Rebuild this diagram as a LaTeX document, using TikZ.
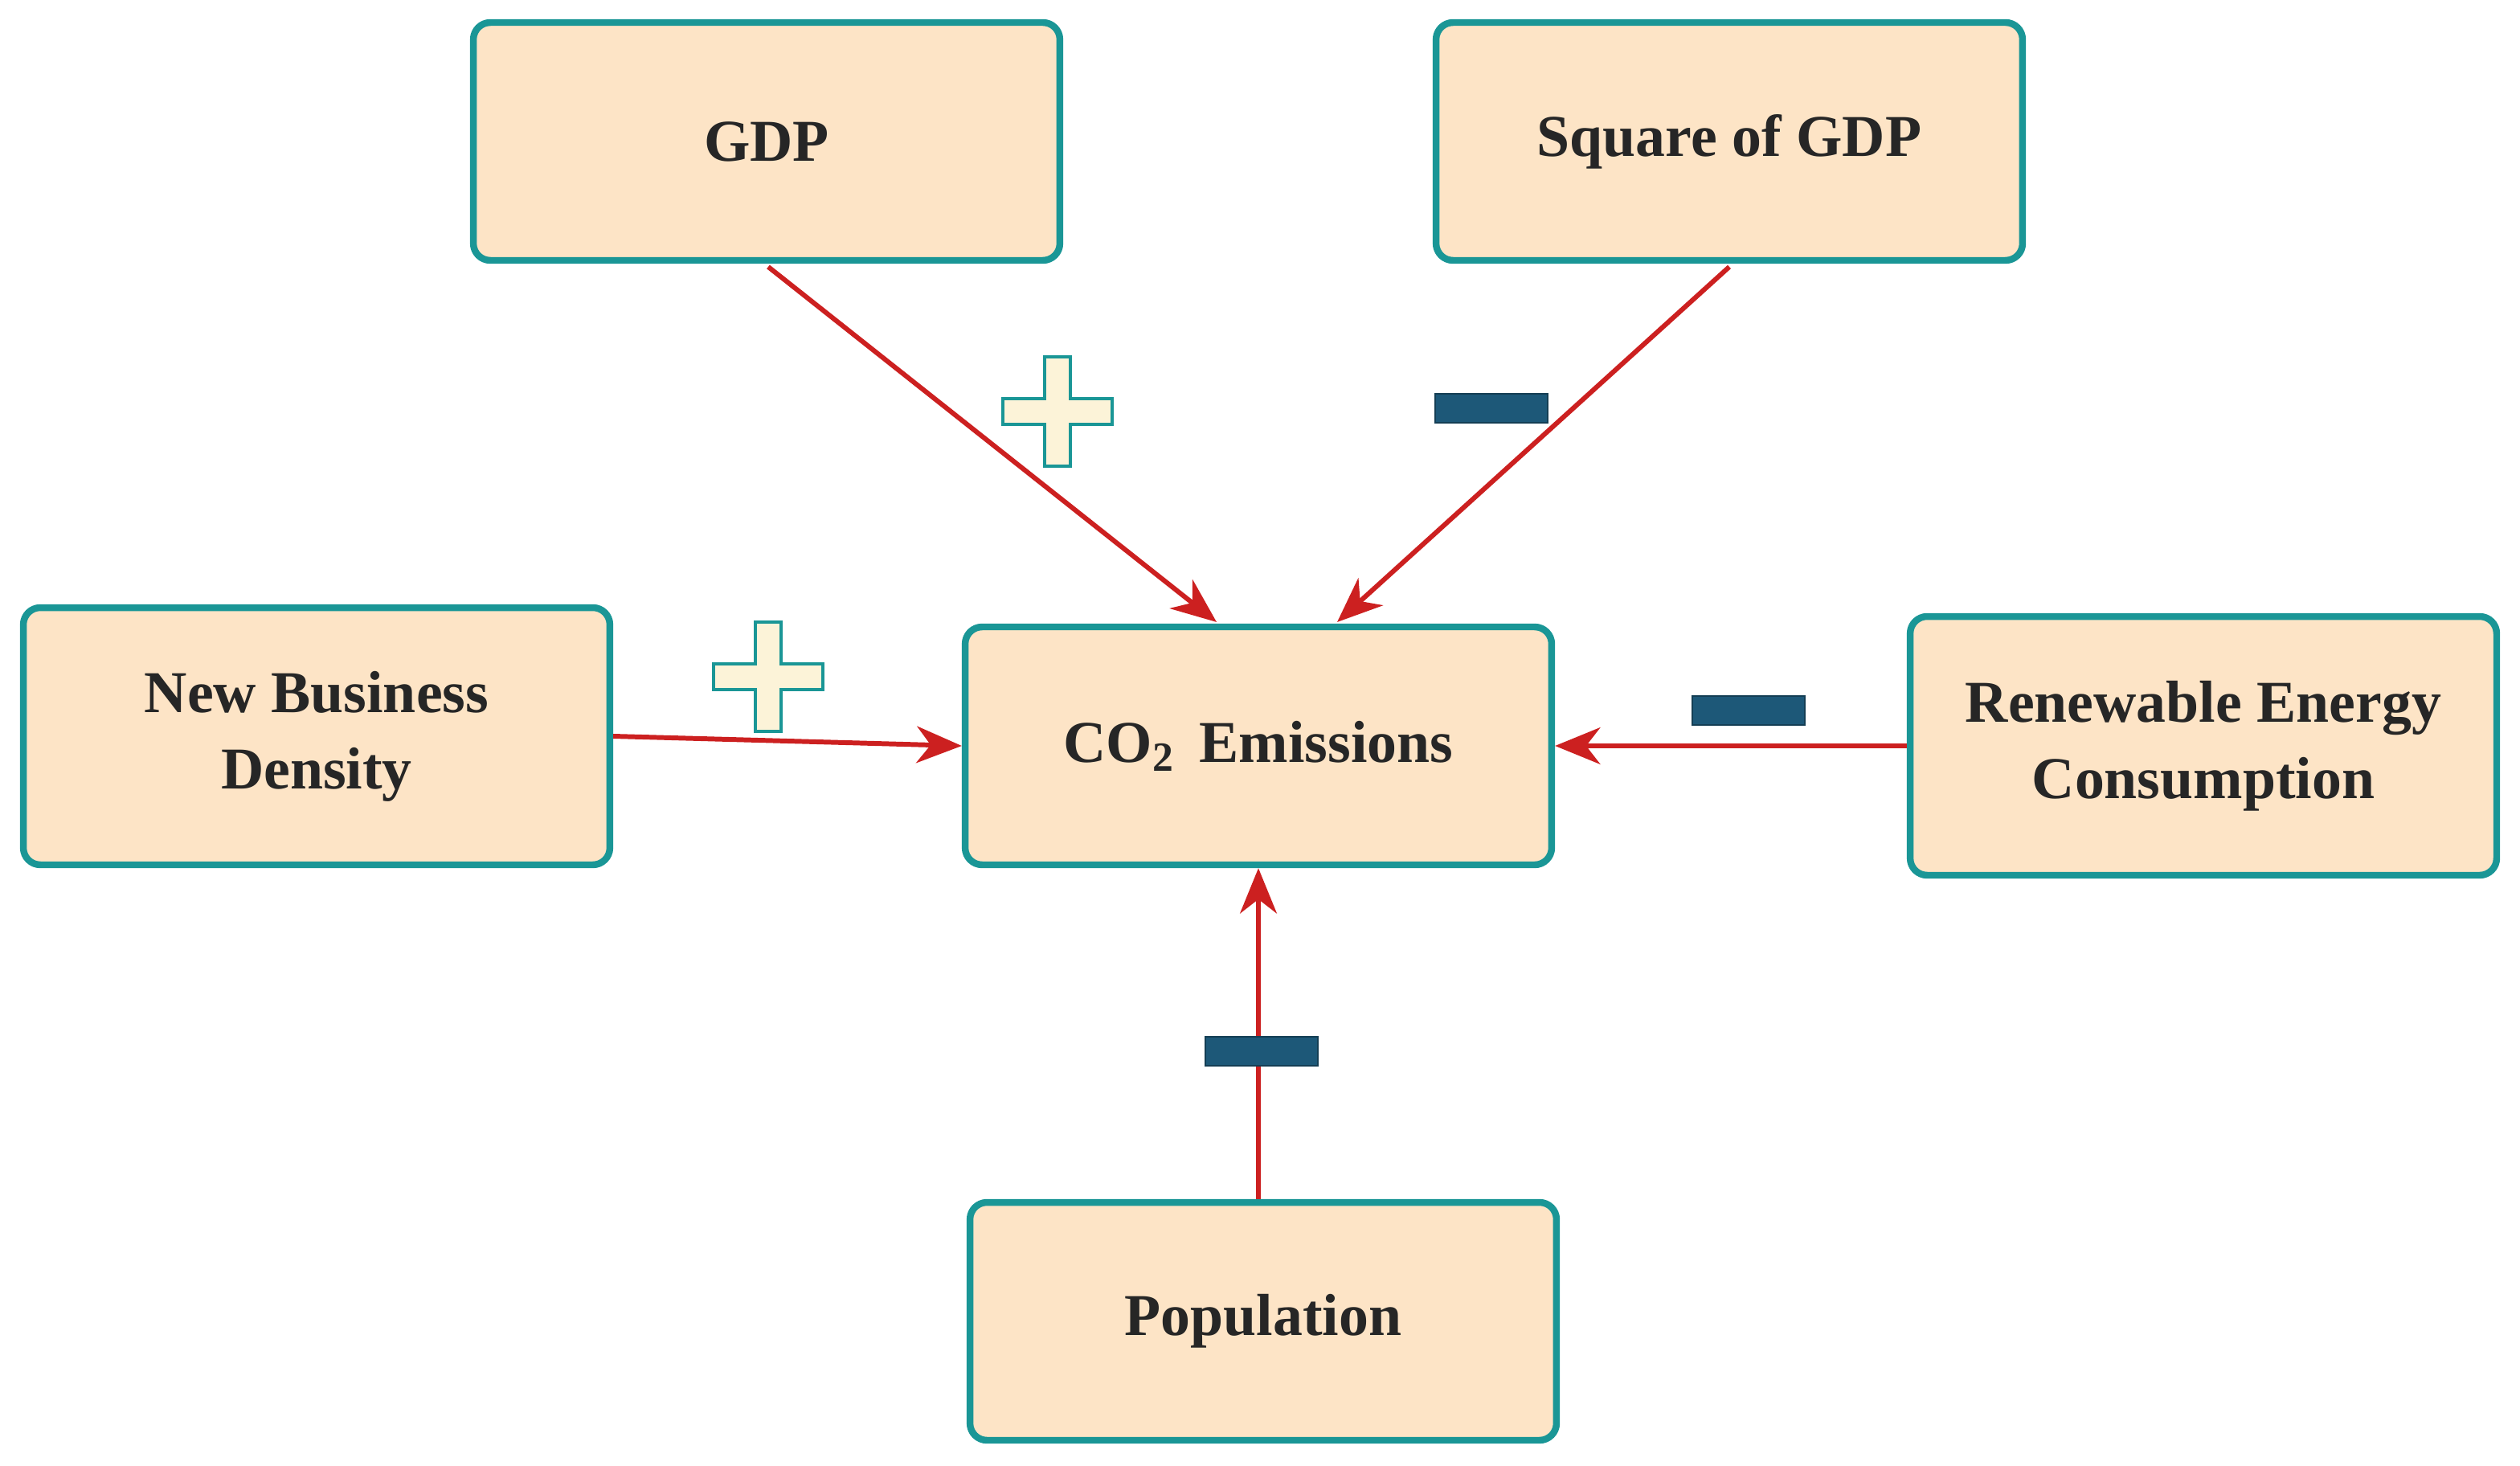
\documentclass[tikz,border=0pt]{standalone}
\usepackage{fontspec}
\setmainfont{Liberation Serif}
\usetikzlibrary{arrows.meta}
\definecolor{boxfill}{HTML}{FDE4C6}
\definecolor{boxline}{HTML}{1A9696}
\definecolor{arr}{HTML}{CC2020}
\definecolor{minus}{HTML}{1D5878}
\definecolor{plusfill}{HTML}{FCF3D8}
\tikzset{
  box/.style={draw=boxline, fill=boxfill, line width=2.4pt, rounded corners=6pt,
    minimum width=7.3cm, minimum height=2.96cm, align=center,
    font=\fontsize{21}{27}\selectfont\bfseries, text=black!85},
  link/.style={draw=arr, line width=1.7pt, -{Stealth[length=16pt,width=13pt,inset=5pt]}},
  minusbar/.style={fill=minus, draw=minus!70!black, line width=0.5pt},
  plussign/.style={fill=plusfill, draw=boxline, line width=1pt}
}
\newcommand{\plusat}[2]{\path[plussign] (#1-34,#2-8) -- (#1-8,#2-8) -- (#1-8,#2-34) -- (#1+8,#2-34) -- (#1+8,#2-8) -- (#1+34,#2-8) -- (#1+34,#2+8) -- (#1+8,#2+8) -- (#1+8,#2+34) -- (#1-8,#2+34) -- (#1-8,#2+8) -- (#1-34,#2+8) -- cycle;}
\newcommand{\minusat}[2]{\path[minusbar] (#1-35,#2-9) rectangle (#1+35,#2+9);}
\begin{document}
\begin{tikzpicture}[x=0.02cm,y=-0.02cm]
\useasboundingbox (0,0) rectangle (1568,912);
\node[box] (gdp) at (477,88) {GDP};
\node[box] (sq) at (1076,88) {Square of GDP};
\node[box, minimum height=3.2cm] (nbd) at (197,458) {New Business\\Density};
\node[box] (co2) at (783,464) {CO\textsubscript{2}\, Emissions};
\node[box, minimum height=3.22cm] (ren) at (1371,464) {Renewable Energy\\Consumption};
\node[box] (pop) at (786,822) {Population};
\coordinate (g1) at (478,166); \coordinate (g2) at (757,387);
\coordinate (s1) at (1076,166); \coordinate (s2) at (832,387);
\draw[link] (g1) -- (g2);
\draw[link] (s1) -- (s2);
\draw[link] (nbd.east) -- (co2.west);
\draw[link] (ren.west) -- (co2.east);
\draw[link] (co2.south |- pop.north) -- (co2.south);
\plusat{658}{256}
\plusat{478}{421}
\minusat{928}{254}
\minusat{1088}{442}
\minusat{785}{654}
\end{tikzpicture}
\end{document}
